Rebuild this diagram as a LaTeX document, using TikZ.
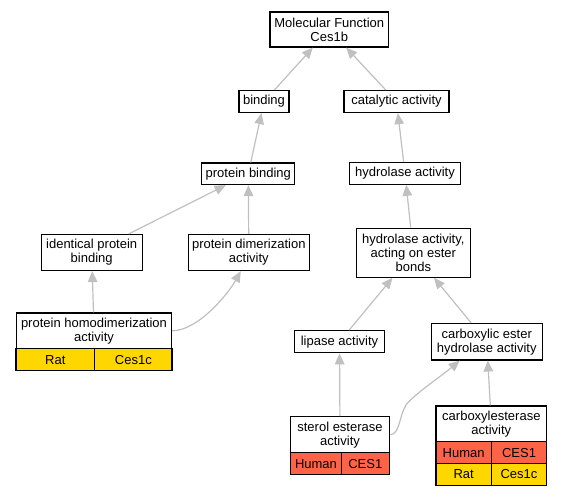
\documentclass[tikz,border=0pt]{standalone}
\usepackage{fontspec}
\setmainfont{Liberation Sans}
\usetikzlibrary{arrows.meta,calc}
\definecolor{edgegray}{RGB}{192,192,192}
\definecolor{goldcell}{RGB}{255,215,0}
\definecolor{tomatocell}{RGB}{255,99,71}
\begin{document}
\begin{tikzpicture}[x=1pt,y=-1pt,
  every node/.style={font=\fontsize{13}{14}\selectfont},
  box/.style={draw=black,line width=1.2pt,fill=white,inner sep=0pt,align=center},
  cell/.style={draw=black,line width=1.2pt,inner sep=0pt,minimum height=22pt,align=center},
  ratcell/.style={cell,fill=goldcell},
  humcell/.style={cell,fill=tomatocell},
  edge/.style={draw=edgegray,line width=1.2pt,-{Triangle[length=11pt,width=9.5pt]}}
]
\useasboundingbox[fill=white] (0,0) rectangle (561,496);

% nodes
\node[box,minimum width=118.5pt,minimum height=35pt] (mf) at (329.25,29.5) {Molecular Function\\Ces1b};
\node[box,minimum width=50pt,minimum height=22pt] (bind) at (264,101.5) {binding};
\node[box,minimum width=105pt,minimum height=22pt] (cat) at (396.5,101.5) {catalytic activity};
\node[box,minimum width=93pt,minimum height=21.5pt] (pb) at (248.3,173.8) {protein binding};
\node[box,minimum width=111pt,minimum height=21.5pt] (hyd) at (405,173.5) {hydrolase activity};
\node[box,minimum width=101pt,minimum height=36pt] (ipb) at (91.7,252.5) {identical protein\\binding};
\node[box,minimum width=121pt,minimum height=36pt] (pda) at (248.8,252.5) {protein dimerization\\activity};
\node[box,minimum width=114pt,minimum height=49pt] (hest) at (413.3,252.7) {hydrolase activity,\\acting on ester\\bonds};
\node[box,minimum width=155pt,minimum height=35.5pt] (homo) at (94,330.8) {protein homodimerization\\activity};
\node[ratcell,minimum width=78.7pt] (homoA) at (55.35,359.7) {Rat};
\node[ratcell,minimum width=77.3pt] (homoB) at (133.35,359.7) {Ces1c};
\node[box,minimum width=90pt,minimum height=22pt] (lip) at (339.5,341.7) {lipase activity};
\node[box,minimum width=111pt,minimum height=36.5pt] (cest) at (486.7,341.7) {carboxylic ester\\hydrolase activity};
\node[box,minimum width=98.6pt,minimum height=36pt] (ster) at (340,434.7) {sterol esterase\\activity};
\node[humcell,minimum width=50.6pt] (sterA) at (316,463.7) {Human};
\node[humcell,minimum width=48pt] (sterB) at (365.3,463.7) {CES1};
\node[box,minimum width=110.7pt,minimum height=36pt] (cxe) at (491.35,424) {carboxylesterase\\activity};
\node[humcell,minimum width=55.3pt] (cxeA) at (463.65,452.7) {Human};
\node[humcell,minimum width=55.4pt] (cxeB) at (519,452.7) {CES1};
\node[ratcell,minimum width=55.3pt] (cxeC) at (463.65,474.3) {Rat};
\node[ratcell,minimum width=55.4pt] (cxeD) at (519,474.3) {Ces1c};

% edges
\draw[edge] (bind) -- (mf);
\draw[edge] (cat) -- (mf);
\draw[edge] (pb) -- (bind);
\draw[edge] (hyd) -- (cat);
\draw[edge] (ipb) -- (pb);
\draw[edge] (pda) -- (pb);
\draw[edge] (hest) -- (hyd);
\draw[edge] (homo) -- (ipb);
\draw[edge] (homo.east) .. controls (198,330.8) and (228,294) .. ([xshift=-8pt]pda.south);
\draw[edge] (lip) -- (hest);
\draw[edge] (cest) -- (hest);
\draw[edge] (ster) -- (lip);
\draw[edge] (ster.east) .. controls (400,434.7) and (399,416) .. (406,405)
                         .. controls (412,396) and (444,374) .. ([xshift=-27pt]cest.south);
\draw[edge] (cxe) -- (cest);
\end{tikzpicture}
\end{document}
